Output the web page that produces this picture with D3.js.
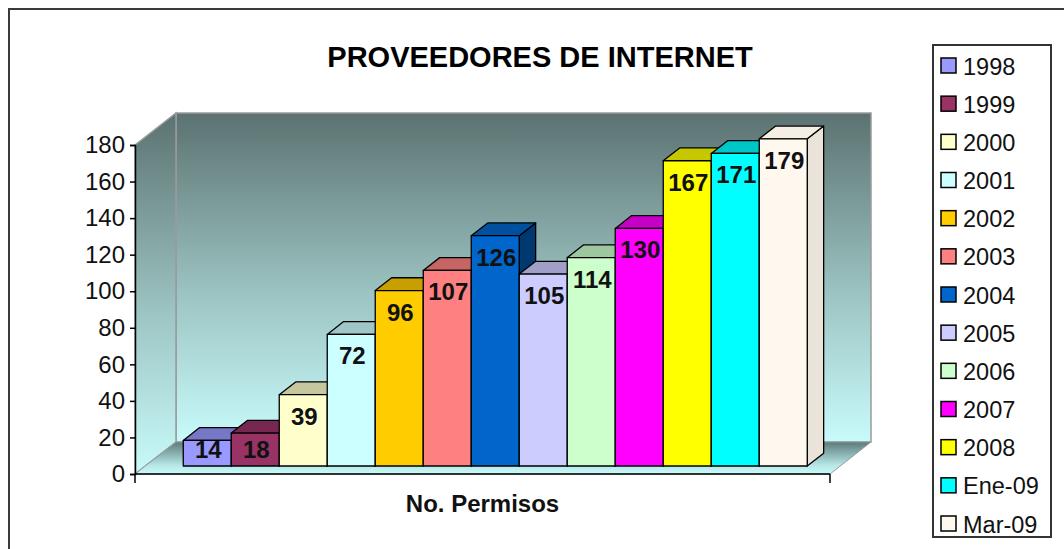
<!DOCTYPE html>
<html><head><meta charset="utf-8">
<script src="https://cdn.jsdelivr.net/npm/d3@7"></script>
<style>html,body{margin:0;padding:0;background:#fff;}svg{display:block;}</style>
</head><body>
<svg id="chart" width="1064" height="549"></svg>
<script>
const title = "PROVEEDORES DE INTERNET";
const categoryLabel = "No. Permisos";
const series = ["1998","1999","2000","2001","2002","2003","2004","2005","2006","2007","2008","Ene-09","Mar-09"];
const values = [14,18,39,72,96,107,126,105,114,130,167,171,179];
const colors = ["#9999ff","#993366","#ffffcc","#ccffff","#ffcc00","#ff8080","#0066cc","#ccccff","#ccffcc","#ff00ff","#ffff00","#00ffff","#fff8ee"];
const yTicks = [0,20,40,60,80,100,120,140,160,180];

const svg = d3.select("#chart");
const font = "'Liberation Sans', Arial, sans-serif";

// outer frame
svg.append("rect").attr("x",9).attr("y",9).attr("width",1100).attr("height",600)
  .attr("fill","#fff").attr("stroke","#3a3a3a").attr("stroke-width",2);

// geometry
const x0 = 135, x1 = 830, yBase = 474, yTop = 145;
const DX = 41, DY = -32; // full depth offset
const y = d3.scaleLinear().domain([0,180]).range([yBase, yTop]);
const xb = d3.scaleBand().domain(series).range([x0 + 38, x1 - 33]).padding(0);
const zF = 0.25, zB = 0.65;
const P = (px, py, z) => [px + DX*z, py + DY*z];

const defs = svg.append("defs");
const wg = defs.append("linearGradient").attr("id","wall").attr("x1",0).attr("y1",0).attr("x2",0).attr("y2",1);
wg.append("stop").attr("offset","0").attr("stop-color","#5b7271");
wg.append("stop").attr("offset","0.55").attr("stop-color","#9cc4c2");
wg.append("stop").attr("offset","1").attr("stop-color","#c8fbfb");
const sg = defs.append("linearGradient").attr("id","side").attr("gradientUnits","userSpaceOnUse")
  .attr("x1",0).attr("y1",yTop+DY).attr("x2",0).attr("y2",yBase);
sg.append("stop").attr("offset","0").attr("stop-color","#5b7271");
sg.append("stop").attr("offset","0.55").attr("stop-color","#9cc4c2");
sg.append("stop").attr("offset","1").attr("stop-color","#c8fbfb");
const fg = defs.append("linearGradient").attr("id","floor").attr("gradientUnits","userSpaceOnUse")
  .attr("x1",0).attr("y1",yBase+DY).attr("x2",0).attr("y2",yBase);
fg.append("stop").attr("offset","0").attr("stop-color","#5c7b7a");
fg.append("stop").attr("offset","0.72").attr("stop-color","#b6e6e6");
fg.append("stop").attr("offset","1").attr("stop-color","#c8fbfb");

const line = d3.line();
// back wall
const bw = [P(x0,yTop,1),P(x1,yTop,1),P(x1,yBase,1),P(x0,yBase,1)];
svg.append("path").attr("d", line(bw)+"Z").attr("fill","url(#wall)").attr("stroke","#9a9a9a").attr("stroke-width",1.5);
// left side wall
const lw = [[x0,yTop],P(x0,yTop,1),P(x0,yBase,1),[x0,yBase]];
svg.append("path").attr("d", line(lw)+"Z").attr("fill","url(#side)").attr("stroke","#9a9a9a").attr("stroke-width",1.5);
// floor
const fl = [[x0,yBase],[x1,yBase],P(x1,yBase,1),P(x0,yBase,1)];
svg.append("path").attr("d", line(fl)+"Z").attr("fill","url(#floor)").attr("stroke","#9a9a9a").attr("stroke-width",1);

// bars
const g = svg.append("g");
series.forEach((s,i) => {
  const v = values[i];
  const xl = xb(s), xr = xb(s) + xb.bandwidth();
  const yt = y(v), yb = y(0);
  const front = [P(xl,yt,zF),P(xr,yt,zF),P(xr,yb,zF),P(xl,yb,zF)];
  const top = [P(xl,yt,zF),P(xr,yt,zF),P(xr,yt,zB),P(xl,yt,zB)];
  const side = [P(xr,yt,zF),P(xr,yt,zB),P(xr,yb,zB),P(xr,yb,zF)];
  const rgb = d3.rgb(colors[i]);
  const chroma = (Math.max(rgb.r,rgb.g,rgb.b) - Math.min(rgb.r,rgb.g,rgb.b))/255;
  const sideCol = d3.interpolateRgb(colors[i], "#000")(0.5*chroma + 0.05);
  const topCol = d3.interpolateRgb(colors[i], "#000")(chroma < 0.1 ? 0.04 : 0.22);
  g.append("path").attr("d", line(side)+"Z").attr("fill", sideCol).attr("stroke","#000").attr("stroke-width",1.3).attr("stroke-linejoin","round");
  g.append("path").attr("d", line(top)+"Z").attr("fill", topCol).attr("stroke","#000").attr("stroke-width",1.3).attr("stroke-linejoin","round");
  g.append("path").attr("d", line(front)+"Z").attr("fill", colors[i]).attr("stroke","#000").attr("stroke-width",1.3).attr("stroke-linejoin","round");
});

// value labels
series.forEach((s,i) => {
  const v = values[i];
  const cx = P(xb(s) + xb.bandwidth()/2, 0, zF)[0] + 1;
  const topY = P(0, y(v), zF)[1];
  const baseY = P(0, y(0), zF)[1];
  const by = Math.min(topY + 30, baseY - 8);
  svg.append("text").attr("x", cx).attr("y", by).attr("text-anchor","middle")
    .attr("font-family", font).attr("font-weight","bold").attr("font-size", 24).attr("fill","#111")
    .text(v);
});

// axes
const yAxis = d3.axisLeft(y).tickValues(yTicks).tickSize(5).tickPadding(5);
const ya = svg.append("g").attr("transform",`translate(${x0},0)`).call(yAxis);
ya.select(".domain").attr("stroke","#000").attr("stroke-width",1.5);
ya.selectAll(".tick line").attr("stroke","#000").attr("stroke-width",1.5);
ya.selectAll("text").attr("font-family",font).attr("font-size",24).attr("fill","#111");

const xs = d3.scaleBand().domain([categoryLabel]).range([x0,x1]);
const xAxis = d3.axisBottom(xs).tickSize(0).tickFormat(() => "");
const xa = svg.append("g").attr("transform",`translate(0,${yBase})`).call(xAxis);
xa.select(".domain").remove();
xa.append("line").attr("x1",x0).attr("x2",x1).attr("stroke","#000").attr("stroke-width",1.5);
[x0,x1].forEach(xx => xa.append("line").attr("x1",xx).attr("x2",xx).attr("y1",0).attr("y2",9).attr("stroke","#000").attr("stroke-width",1.5));
svg.append("text").attr("x", xs(categoryLabel) + xs.bandwidth()/2).attr("y", 512).attr("text-anchor","middle")
  .attr("font-family",font).attr("font-weight","bold").attr("font-size",24).attr("fill","#111").text(categoryLabel);

// title
svg.append("text").attr("x",540).attr("y",67).attr("text-anchor","middle")
  .attr("font-family",font).attr("font-weight","bold").attr("font-size",29).attr("fill","#000").text(title);

// legend
const lg = svg.append("g");
lg.append("rect").attr("x",933).attr("y",45).attr("width",118).attr("height",492)
  .attr("fill","#fff").attr("stroke","#333").attr("stroke-width",2);
const ly = d3.scalePoint().domain(series).range([66, 524]);
series.forEach((s,i) => {
  lg.append("rect").attr("x",941).attr("y",ly(s)-8).attr("width",15).attr("height",15)
    .attr("fill",colors[i]).attr("stroke","#000").attr("stroke-width",1.5);
  lg.append("text").attr("x",963).attr("y",ly(s)+8.5).attr("font-family",font).attr("font-size",23.5)
    .attr("fill","#111").text(s);
});
</script>
</body></html>
